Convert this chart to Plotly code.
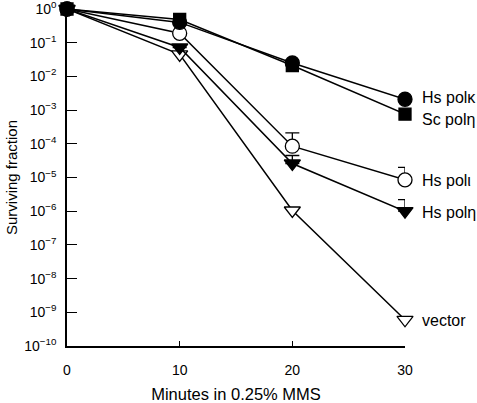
import math
import plotly.graph_objects as go

minutes = [0, 10, 20, 30]
hs_polk = [1.0, 0.40, 0.025, 2.1e-3]
sc_poleta = [1.0, 0.49, 0.021, 7.6e-4]
hs_poli = [1.0, 0.19, 8.5e-5, 8.5e-6]
hs_poli_err_top = [1.0, 0.19, 2.1e-4, 2.0e-5]
hs_poleta = [1.0, 0.072, 2.6e-5, 1.0e-6]
hs_poleta_err_top = [1.0, 0.072, 4.5e-5, 2.2e-6]
vector = [1.0, 0.045, 1.05e-6, 6.0e-10]

labels = ["Hs polκ", "Sc polη", "Hs polι", "Hs polη", "vector"]
label_y = [2.4e-3, 5.2e-4, 8.1e-6, 9.1e-7, 5.8e-10]

tickvals = [10 ** (-k) for k in range(0, 11)]
ticktext = ["10<sup>0</sup>"] + [f"10<sup>−{k}</sup>" for k in range(1, 11)]

FAM = "Liberation Sans, Arial, sans-serif"
font = dict(family=FAM, size=16.5, color="black")
yfont = dict(family=FAM, size=15, color="black")
lfont = dict(family=FAM, size=16, color="black")
tfont = dict(family=FAM, size=14, color="black")

fig = go.Figure()

def add(y, symbol, size, fill, err=None):
    kw = {}
    if err is not None:
        kw["error_y"] = dict(type="data", symmetric=False,
                             array=[e - v for e, v in zip(err, y)],
                             arrayminus=[0] * len(y),
                             color="black", thickness=1.3, width=7)
    fig.add_trace(go.Scatter(
        x=minutes, y=y, mode="lines+markers",
        line=dict(color="black", width=1.5),
        marker=dict(symbol=symbol, size=size, color=fill,
                    line=dict(color="black", width=1.3)),
        cliponaxis=False, showlegend=False, hoverinfo="skip", **kw))

add(vector, "triangle-down", 14, "white")
add(hs_poleta, "triangle-down", 14, "black", hs_poleta_err_top)
add(hs_poli, "circle", 14, "white", hs_poli_err_top)
add(hs_polk, "circle", 14, "black")
add(sc_poleta, "square", 12, "black")

for lab, ly in zip(labels, label_y):
    fig.add_annotation(x=1.045, xref="paper", y=math.log10(ly), yref="y", text=lab,
                       showarrow=False, xanchor="left", font=lfont)

fig.update_xaxes(range=[0, 30], tickvals=[0, 10, 20, 30], ticks="inside", ticklen=5,
                 tickwidth=1.3, tickcolor="black", showline=True, linecolor="black",
                 linewidth=1.5, showgrid=False, zeroline=False, tickfont=tfont,
                 automargin=False, ticklabelstandoff=10, ticklabeloverflow="allow",
                 title=dict(text="Minutes in 0.25% MMS", font=font, standoff=15))
fig.update_yaxes(type="log", range=[-10, 0], tickvals=tickvals, ticktext=ticktext,
                 ticks="inside", ticklen=10, tickwidth=1.3, tickcolor="black",
                 showline=True, linecolor="black", linewidth=1.5, showgrid=False,
                 zeroline=False, tickfont=tfont, ticklabelstandoff=6, automargin=False,
                 ticklabeloverflow="allow",
                 title=dict(text="Surviving fraction", font=yfont, standoff=3))

fig.update_layout(width=477, height=403, margin=dict(l=67, r=72, t=9, b=57),
                  plot_bgcolor="white", paper_bgcolor="white", font=font)

fig.write_html("out.html", config={"displayModeBar": False},
               post_script="document.body.style.margin='0';document.body.style.overflow='hidden';")
